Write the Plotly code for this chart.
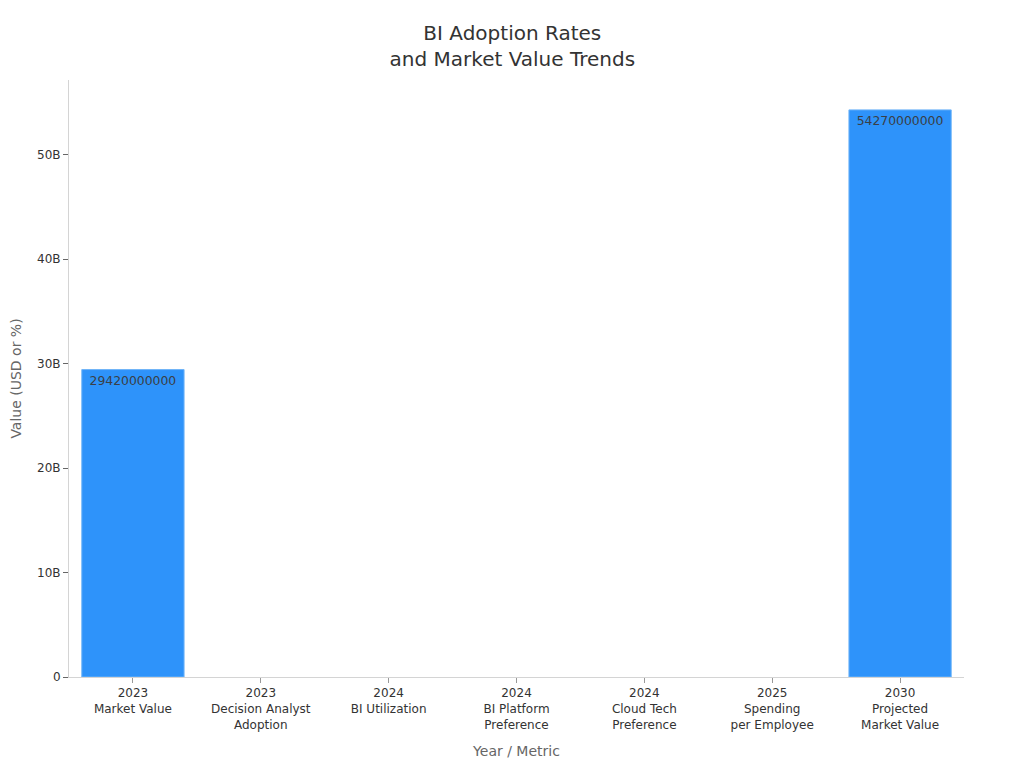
import plotly.graph_objects as go

categories = [
    "2023<br>Market Value",
    "2023<br>Decision Analyst<br>Adoption",
    "2024<br>BI Utilization",
    "2024<br>BI Platform<br>Preference",
    "2024<br>Cloud Tech<br>Preference",
    "2025<br>Spending<br>per Employee",
    "2030<br>Projected<br>Market Value",
]
values = [29420000000, None, None, None, None, None, 54270000000]
labels = ["29420000000", "", "", "", "", "", "54270000000"]
y_ticks = [0, 10e9, 20e9, 30e9, 40e9, 50e9]
y_tick_labels = ["0", "10B", "20B", "30B", "40B", "50B"]

FONT = "DejaVu Sans"

fig = go.Figure(
    go.Bar(
        x=categories,
        y=values,
        text=labels,
        textposition="inside",
        insidetextanchor="end",
        textangle=0,
        constraintext="none",
        textfont=dict(family=FONT, size=12.4, color="#3A3F47"),
        marker=dict(color="#2E93FA", line=dict(color="#6FB4F8", width=1)),
        cliponaxis=False,
        hoverinfo="x+y",
    )
)

fig.update_layout(
    width=1024,
    height=768,
    autosize=False,
    margin=dict(l=60.5, r=68, t=72, b=99),
    paper_bgcolor="white",
    plot_bgcolor="white",
    bargap=0.2,
    showlegend=False,
    font=dict(family=FONT, size=12, color="#333333"),
    title=dict(
        text="BI Adoption Rates<br>and Market Value Trends",
        x=0.4925,
        xanchor="center",
        y=0.9584,
        yanchor="top",
        font=dict(family=FONT, size=20, color="#333333"),
    ),
    xaxis=dict(
        type="category",
        categoryorder="array",
        categoryarray=categories,
        automargin=False,
        showgrid=False,
        showline=True,
        linecolor="#D4D4D4",
        linewidth=1,
        ticks="outside",
        ticklen=5,
        tickwidth=1,
        tickcolor="#999999",
        tickangle=0,
        tickfont=dict(family=FONT, size=12, color="#333333"),
        title=dict(text="Year / Metric", standoff=15, font=dict(family=FONT, size=14, color="#666666")),
    ),
    yaxis=dict(
        range=[0, 57.13e9],
        tickvals=y_ticks,
        ticktext=y_tick_labels,
        automargin="height",
        showgrid=False,
        zeroline=False,
        showline=True,
        linecolor="#D4D4D4",
        linewidth=1,
        ticks="outside",
        ticklen=5,
        tickwidth=1,
        tickcolor="#666666",
        tickfont=dict(family=FONT, size=12, color="#333333"),
        title=dict(text="Value (USD or %)", standoff=16, font=dict(family=FONT, size=14, color="#666666")),
    ),
)

fig.write_html("out.html", config=dict(displayModeBar=False))
